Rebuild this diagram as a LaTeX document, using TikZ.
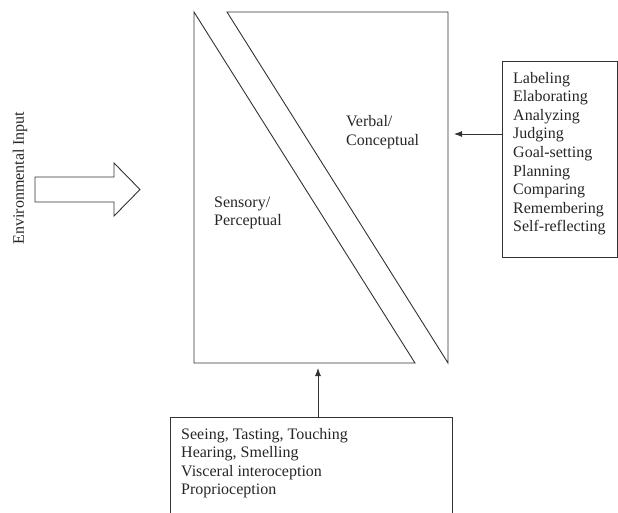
\documentclass[tikz,border=0pt]{standalone}
\usepackage{fontspec}
\setmainfont{Liberation Serif}
\usetikzlibrary{arrows.meta}
\begin{document}
\begin{tikzpicture}[x=1pt,y=-1pt,
  ln/.style={draw=black!80,line width=0.9pt},
  txt/.style={inner sep=0pt,anchor=north west,align=left,text=black!85,
    font=\fontsize{16}{18.6}\selectfont},
  conn/.style={ln,-{Latex[length=8pt,width=6pt]}}]
\clip (0,0) rectangle (618,512);
% block arrow (environmental input)
\draw[ln] (35,177) -- (114,177) -- (114,163) -- (140,189.5) -- (114,216) -- (114,202) -- (35,202) -- cycle;
\node[inner sep=0pt,rotate=90,text=black!85,font=\fontsize{16}{18.6}\selectfont] (env) at (20,178) {Environmental Input};
% central shapes
\draw[ln] (194,12) -- (415,363) -- (194,363) -- cycle;
\draw[ln] (227,12) -- (448,12) -- (448,363) -- cycle;
\node[txt] (sens) at (214,196.6) {Sensory/\\Perceptual};
\node[txt] (verb) at (346,115.6) {Verbal/\\Conceptual};
% right box
\node[ln,rectangle,inner sep=0pt,minimum width=114.5pt,minimum height=196pt,anchor=north west] (rbox) at (502,61) {};
\node[txt] (rtext) at (513,71.8) {Labeling\\Elaborating\\Analyzing\\Judging\\Goal-setting\\Planning\\Comparing\\Remembering\\Self-reflecting};
\coordinate (rtip) at (454,134);
\draw[conn] (rbox.west |- rtip) -- (rtip);
% bottom box
\node[ln,rectangle,inner sep=0pt,minimum width=282pt,minimum height=110pt,anchor=north west] (bbox) at (170,417) {};
\node[txt] (btext) at (181,427.8) {Seeing, Tasting, Touching\\Hearing, Smelling\\Visceral interoception\\Proprioception};
\coordinate (btip) at (318,368);
\draw[conn] (bbox.north -| btip) -- (btip);
\end{tikzpicture}
\end{document}
